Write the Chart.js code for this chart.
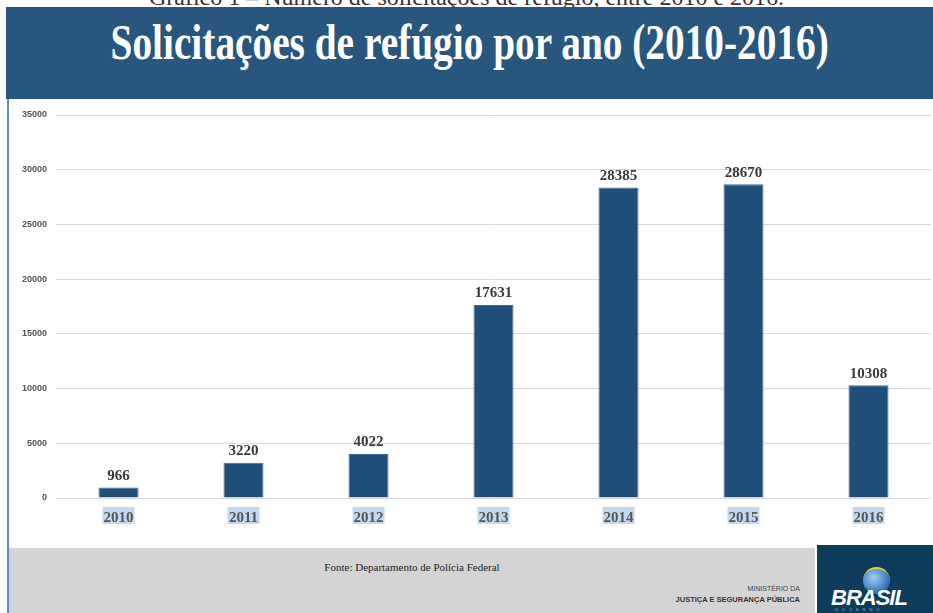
<!DOCTYPE html>
<html>
<head>
<meta charset="utf-8">
<script src="https://cdn.jsdelivr.net/npm/chart.js@4"></script>
<style>
  body { margin: 0; width: 933px; height: 613px; overflow: hidden; background: #fff; position: relative; font-family: "Liberation Serif", serif; }
  #caption { position: absolute; left: 0; top: -16px; width: 933px; text-align: center; font-size: 24px; color: #333; white-space: nowrap; }
  #header { position: absolute; left: 6px; top: 7px; width: 927px; height: 92px; background: #27567f; }
  #title { position: absolute; left: 0; top: 6px; width: 927px; text-align: center; color: #fff; font-weight: bold; font-size: 50px; white-space: nowrap; }
  #title span { display: inline-block; transform-origin: center; }
  #leftline { position: absolute; left: 7px; top: 99px; width: 2px; height: 514px; background: #5b8bd0; }
  #chartbox { position: absolute; left: 0; top: 100px; width: 933px; height: 445px; }
  #footer { position: absolute; left: 9px; top: 548px; width: 806px; height: 65px; background: #d4d4d4; }
  #fonte { position: absolute; left: 0; top: 13px; width: 806px; text-align: center; font-size: 11px; color: #222; }
  #min1 { position: absolute; right: 15px; top: 37px; font-family: "Liberation Sans", sans-serif; font-size: 7px; color: #444; }
  #min2 { position: absolute; right: 15px; top: 47px; font-family: "Liberation Sans", sans-serif; font-size: 7.5px; font-weight: bold; color: #333; }
  #logo { position: absolute; left: 817px; top: 545px; width: 116px; height: 68px; background: #0e3c5b; overflow: hidden; }
  #globe { position: absolute; left: 46px; top: 22px; width: 27px; height: 27px; border-radius: 50%; background: radial-gradient(circle at 40% 35%, #9fd0f5, #2d6fb5 70%); border-top: 2px solid #e8d23c; box-sizing: border-box; }
  #brasil { position: absolute; left: 14px; top: 40px; font-family: "Liberation Sans", sans-serif; font-weight: bold; font-style: italic; font-size: 22px; color: #fff; letter-spacing: -1px; }
  #gov { position: absolute; left: 18px; top: 62px; font-family: "Liberation Sans", sans-serif; font-size: 4px; letter-spacing: 4px; color: #9ab; }
</style>
</head>
<body>
<div id="caption">Gráfico 1 – Número de solicitações de refúgio, entre 2010 e 2016.</div>
<div id="header"><div id="title"><span id="titletext">Solicitações de refúgio por ano (2010-2016)</span></div></div>
<div id="leftline"></div>
<div id="chartbox"><canvas id="chart" width="933" height="445"></canvas></div>
<div id="footer">
  <div id="fonte">Fonte: Departamento de Polícia Federal</div>
  <div id="min1">MINISTÉRIO DA</div>
  <div id="min2">JUSTIÇA E SEGURANÇA PÚBLICA</div>
</div>
<div id="logo">
  <div id="globe"></div>
  <div id="brasil">BRASIL</div>
  <div id="gov">GOVERNO FEDERAL</div>
</div>
<script>
// data
const years = ["2010", "2011", "2012", "2013", "2014", "2015", "2016"];
const requests = [966, 3220, 4022, 17631, 28385, 28670, 10308];

// squeeze the title like the original condensed font
const t = document.getElementById("titletext");
t.style.transform = "scaleX(" + (718 / t.offsetWidth) + ")";

// value labels over the bars
const valueLabels = {
    id: "valueLabels",
    afterDatasetsDraw(chart) {
        const ctx = chart.ctx;
        const meta = chart.getDatasetMeta(0);
        ctx.save();
        ctx.font = "bold 15px 'Liberation Serif'";
        ctx.fillStyle = "#3a3a3a";
        ctx.textAlign = "center";
        ctx.textBaseline = "bottom";
        meta.data.forEach((bar, i) => {
            ctx.fillText(requests[i], bar.x, bar.y - 4);
        });
        ctx.restore();
    }
};

// light blue highlight behind the year labels
const yearHighlight = {
    id: "yearHighlight",
    beforeDraw(chart) {
        const ctx = chart.ctx;
        const x = chart.scales.x;
        ctx.save();
        ctx.fillStyle = "#c3d9f0";
        years.forEach((y, i) => {
            const px = x.getPixelForTick(i);
            ctx.fillRect(px - 16, x.top + 9, 32, 17);
        });
        ctx.restore();
    }
};

new Chart(document.getElementById("chart"), {
    type: "bar",
    data: {
        labels: years,
        datasets: [{
            data: requests,
            backgroundColor: "#1f4e79",
            borderColor: "#3c6a94",
            borderWidth: 1,
            categoryPercentage: 1,
            barPercentage: 0.32
        }]
    },
    options: {
        responsive: false,
        animation: false,
        layout: { padding: { top: 15, right: 2, left: 0, bottom: 0 } },
        plugins: { legend: { display: false }, tooltip: { enabled: false } },
        scales: {
            x: {
                grid: { display: false },
                border: { display: false },
                ticks: {
                    padding: 3,
                    color: "#555",
                    font: { family: "Liberation Serif", size: 15, weight: "bold" }
                },
                afterFit(s) { s.height = 47; }
            },
            y: {
                min: 0,
                max: 35000,
                grid: { color: "#d9d9d9", drawTicks: false },
                border: { display: false },
                ticks: {
                    stepSize: 5000,
                    padding: 9,
                    color: "#555",
                    font: { family: "Liberation Sans", size: 9, weight: "bold" },
                    callback: (v) => String(v)
                },
                afterFit(s) { s.width = 56; }
            }
        }
    },
    plugins: [valueLabels, yearHighlight]
});
</script>
</body>
</html>
